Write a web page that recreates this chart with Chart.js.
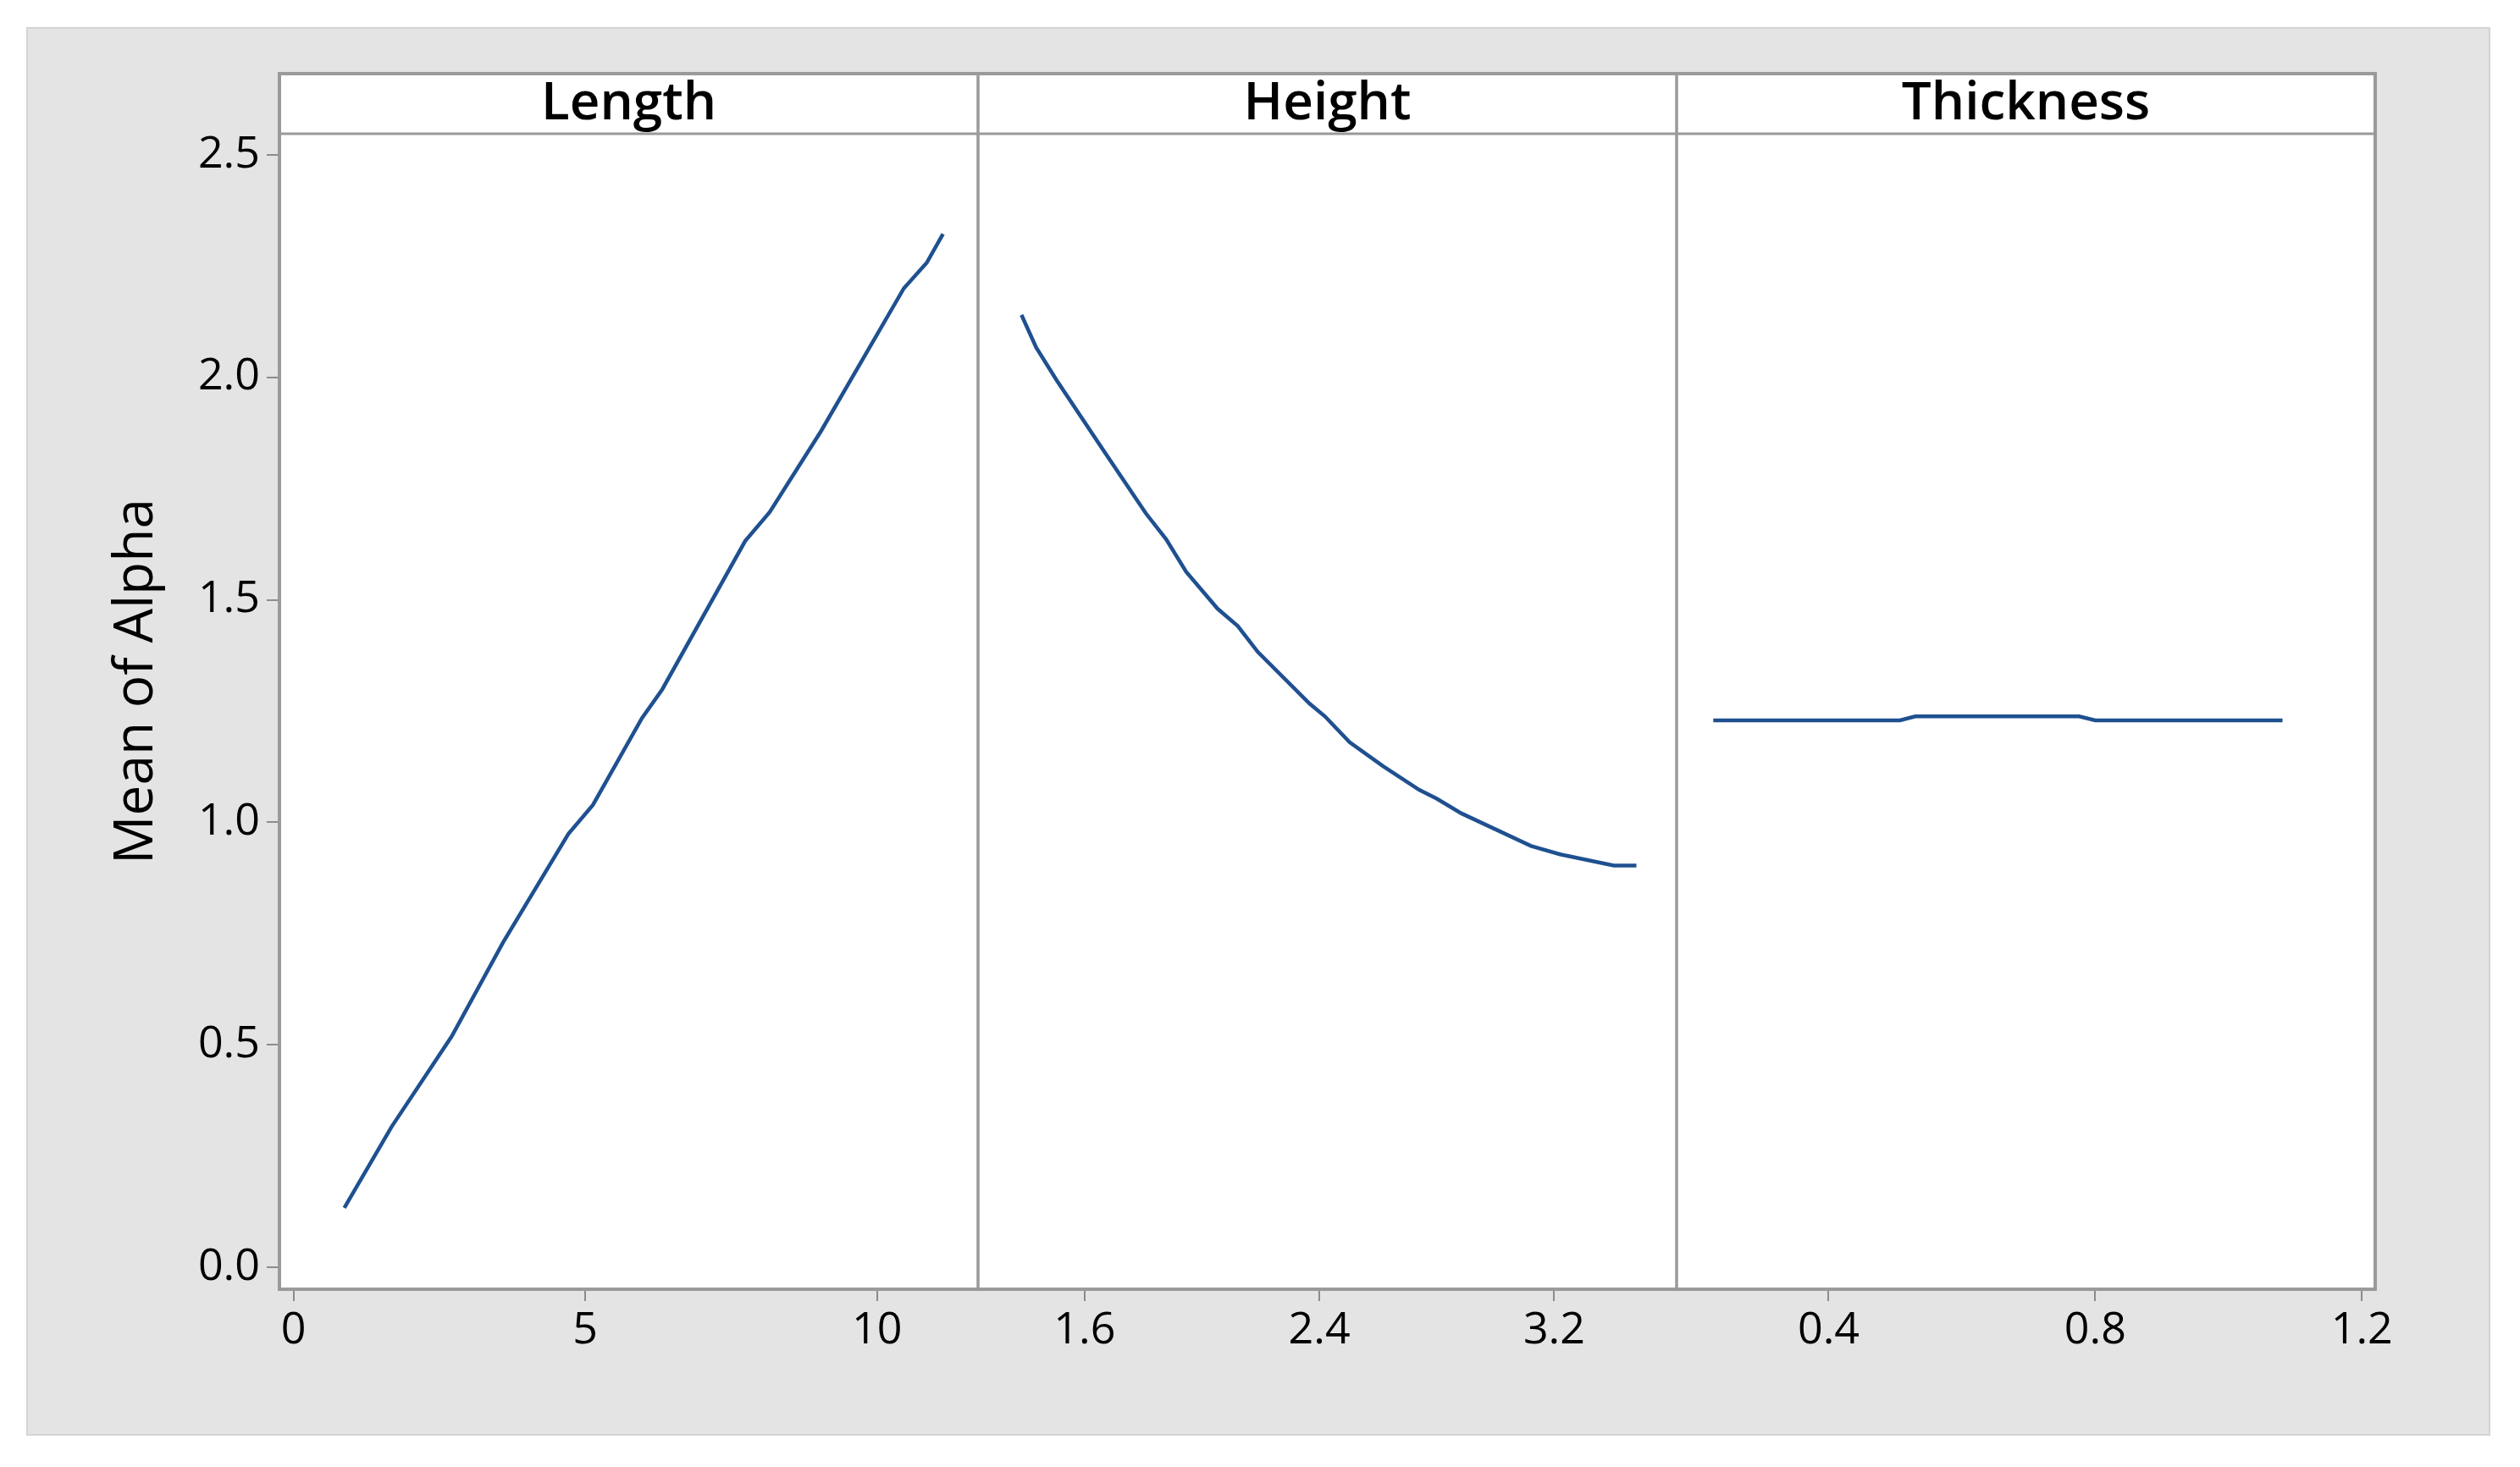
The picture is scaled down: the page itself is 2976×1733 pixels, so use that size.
<!DOCTYPE html>
<html>
<head>
<meta charset="utf-8">
<title>Main Effects Plot for Alpha</title>
<script src="https://cdn.jsdelivr.net/npm/chart.js@4.4.1/dist/chart.umd.min.js"></script>
<style>
  html, body { margin: 0; padding: 0; background: #fff; }
  #frame {
    position: absolute; left: 31px; top: 32px; width: 2910px; height: 1664px;
    background: #e4e4e4; border: 2px solid #d4d4d4; box-sizing: border-box;
  }
  #chart { position: absolute; left: 0; top: 0; }
</style>
</head>
<body>
<div id="frame"></div>
<canvas id="chart" width="2976" height="1733"></canvas>
<script>
// data
const panelTitles = ['Length', 'Height', 'Thickness'];
const yTitle = 'Mean of Alpha';

const lengthX = [0.87, 1.68, 2.71, 3.59, 4.71, 5.13, 5.97, 6.32, 7.74, 8.16, 9.04, 10.46, 10.85, 11.13];
const lengthY = [0.134, 0.316, 0.519, 0.730, 0.974, 1.039, 1.234, 1.299, 1.632, 1.697, 1.879, 2.200, 2.257, 2.322];

const heightX = [1.385, 1.435, 1.504, 1.656, 1.809, 1.878, 1.946, 2.053, 2.122, 2.190, 2.366, 2.419, 2.503, 2.617, 2.740, 2.800, 2.884, 3.121, 3.220, 3.403, 3.480];
const heightY = [2.140, 2.067, 1.994, 1.844, 1.694, 1.636, 1.563, 1.480, 1.441, 1.383, 1.267, 1.238, 1.180, 1.126, 1.073, 1.053, 1.020, 0.947, 0.928, 0.903, 0.903];

const thickX = [0.227, 0.507, 0.530, 0.776, 0.800, 1.081];
const thickY = [1.229, 1.229, 1.238, 1.238, 1.229, 1.229];

const yTicks = [0, 0.5, 1.0, 1.5, 2.0, 2.5];
const lengthTicks = [0, 5, 10];
const heightTicks = [1.6, 2.4, 3.2];
const thickTicks = [0.4, 0.8, 1.2];

const lineColor = '#1f5090';
const frameColor = '#9a9a9a';
const tickColor = '#8c8c8c';

Chart.defaults.font.family = "'Open Sans', 'Noto Sans', sans-serif";
Chart.defaults.color = '#000';

function toPoints(xs, ys) {
    return xs.map((x, i) => ({ x: x, y: ys[i] }));
}

function xScale(min, max, ticks) {
    return {
        type: 'linear',
        position: 'bottom',
        stack: 'panels',
        stackWeight: 1,
        min: min,
        max: max,
        afterBuildTicks: s => { s.ticks = ticks.map(v => ({ value: v })); },
        afterFit: s => { s.height = 210; },
        ticks: { font: { size: 52, weight: 500 }, padding: 4, maxRotation: 0, callback: v => String(v) },
        grid: { drawOnChartArea: false, drawTicks: true, tickLength: 14, color: tickColor, lineWidth: 2 },
        border: { display: false }
    };
}

// header strips, panel frames and the y title
const panelFrames = {
    id: 'panelFrames',
    beforeDraw(chart) {
        const { ctx, chartArea } = chart;
        ctx.save();
        ctx.fillStyle = '#fff';
        ctx.fillRect(chartArea.left, 87, chartArea.right - chartArea.left, chartArea.bottom - 87);
        ctx.restore();
    },
    afterDraw(chart) {
        const { ctx, chartArea } = chart;
        const ids = ['xLength', 'xHeight', 'xThick'];
        const headTop = 87;
        ctx.save();
        ctx.strokeStyle = frameColor;
        ctx.lineWidth = 3;
        ids.forEach((id, i) => {
            const s = chart.scales[id];
            ctx.strokeRect(s.left, headTop, s.right - s.left, chartArea.bottom - headTop);
            ctx.beginPath();
            ctx.moveTo(s.left, chartArea.top);
            ctx.lineTo(s.right, chartArea.top);
            ctx.stroke();
            ctx.fillStyle = '#000';
            ctx.font = "600 62px 'Open Sans', sans-serif";
            ctx.textAlign = 'center';
            ctx.textBaseline = 'alphabetic';
            ctx.fillText(panelTitles[i], (s.left + s.right) / 2, 141);
        });
        ctx.lineWidth = 4;
        ctx.strokeRect(chartArea.left, headTop, chartArea.right - chartArea.left, chartArea.bottom - headTop);

        ctx.translate(180, (headTop + chartArea.bottom) / 2);
        ctx.rotate(-Math.PI / 2);
        ctx.font = "500 64px 'Open Sans', sans-serif";
        ctx.textAlign = 'center';
        ctx.fillText(yTitle, 0, 0);
        ctx.restore();
    }
};

new Chart(document.getElementById('chart'), {
    type: 'line',
    data: {
        datasets: [
            { label: 'Length', data: toPoints(lengthX, lengthY), xAxisID: 'xLength', yAxisID: 'y' },
            { label: 'Height', data: toPoints(heightX, heightY), xAxisID: 'xHeight', yAxisID: 'y' },
            { label: 'Thickness', data: toPoints(thickX, thickY), xAxisID: 'xThick', yAxisID: 'y' }
        ]
    },
    options: {
        responsive: false,
        animation: false,
        layout: { padding: { top: 158, right: 171, bottom: 0, left: 0 } },
        elements: {
            line: { borderColor: lineColor, borderWidth: 4.5, tension: 0 },
            point: { radius: 0 }
        },
        plugins: { legend: { display: false }, tooltip: { enabled: false } },
        scales: {
            y: {
                type: 'linear',
                position: 'left',
                min: -0.049,
                max: 2.547,
                afterBuildTicks: s => { s.ticks = yTicks.map(v => ({ value: v })); },
                afterFit: s => { s.width = 330; },
                ticks: { font: { size: 52, weight: 500 }, padding: 8, callback: v => v.toFixed(1) },
                grid: { drawOnChartArea: false, drawTicks: true, tickLength: 15, color: tickColor, lineWidth: 2 },
                border: { display: false }
            },
            xLength: xScale(-0.242, 11.73, lengthTicks),
            xHeight: xScale(1.237, 3.617, heightTicks),
            xThick: xScale(0.172, 1.220, thickTicks)
        }
    },
    plugins: [panelFrames]
});
</script>
</body>
</html>
